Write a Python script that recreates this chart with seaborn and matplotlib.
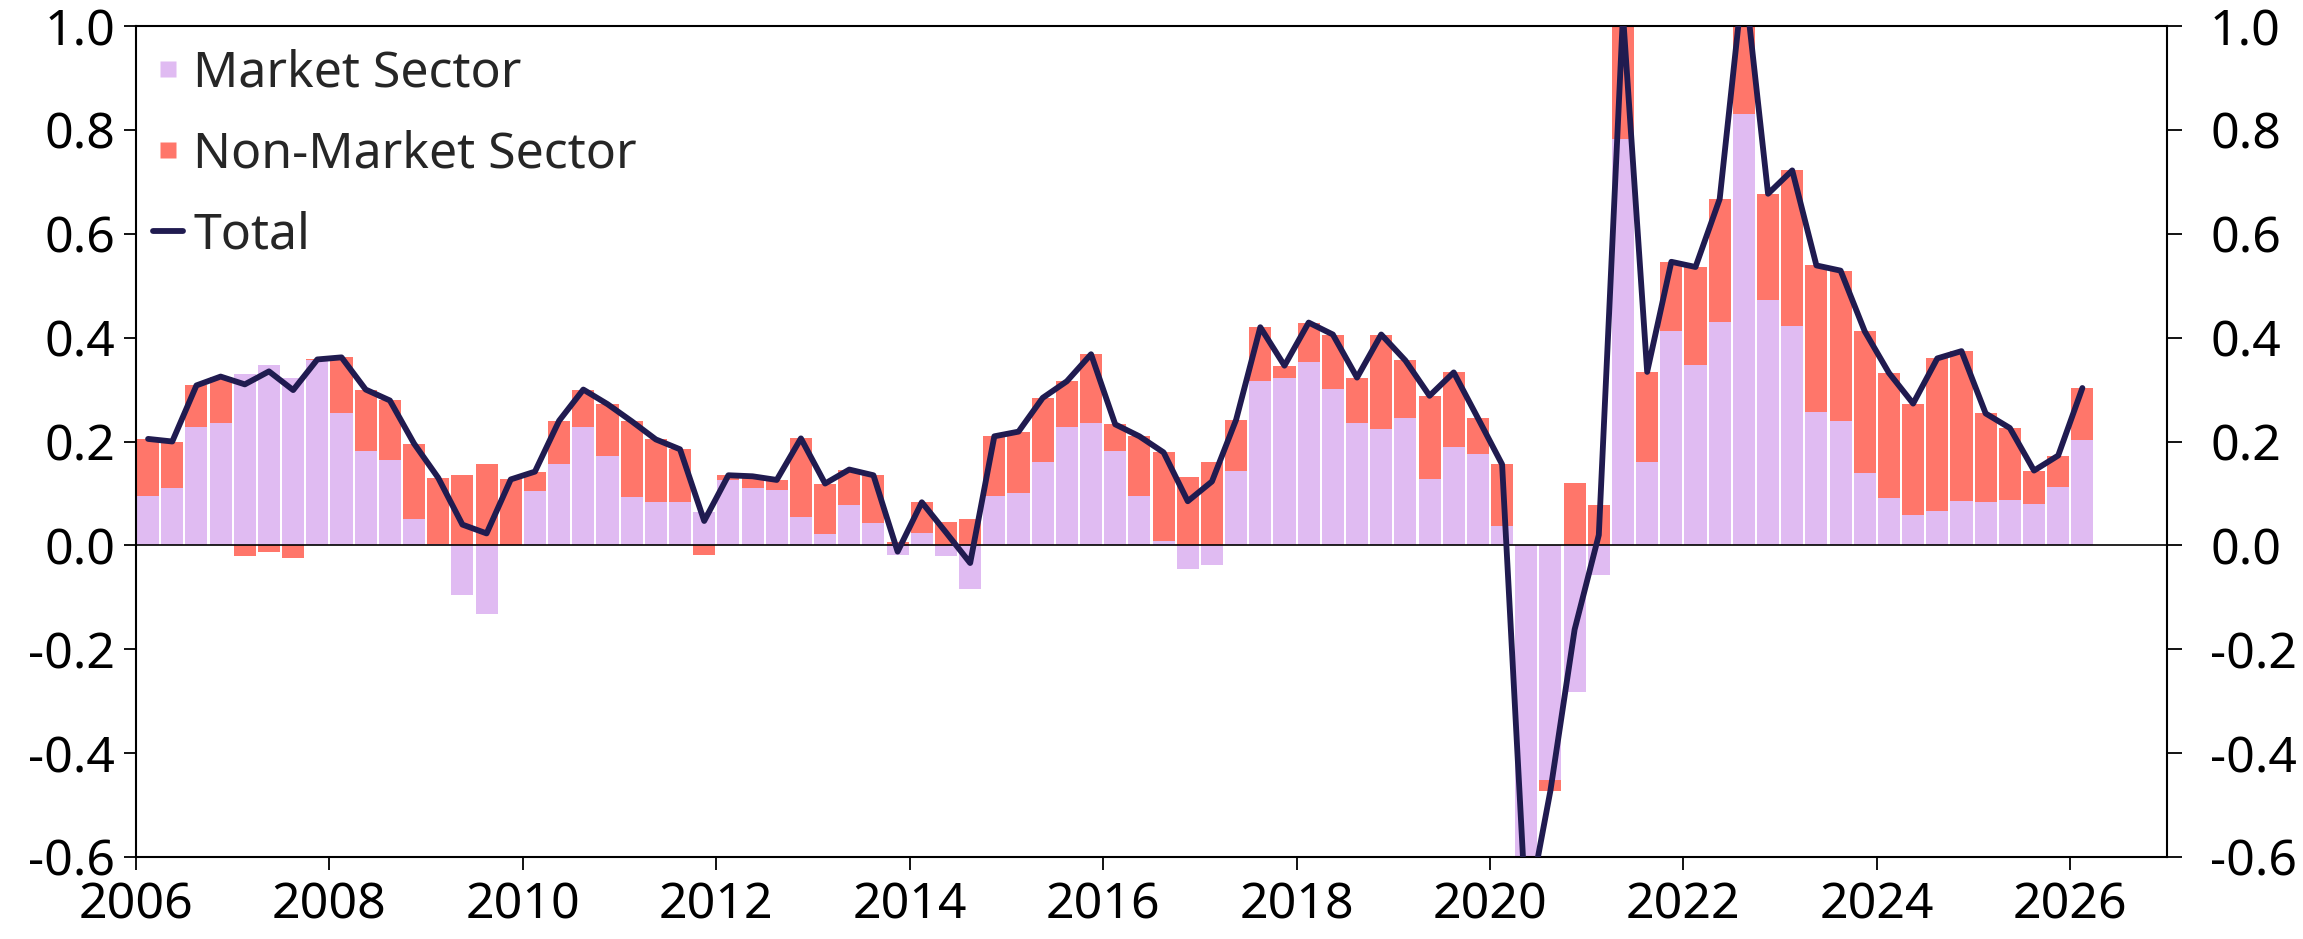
import numpy as np
import matplotlib
matplotlib.use("Agg")
import matplotlib.pyplot as plt
import seaborn as sns
from matplotlib.lines import Line2D

# Quarterly data 2006Q1 .. 2026Q1
start_year = 2006
market = [
    0.095, 0.110, 0.228, 0.236,   # 2006
    0.330, 0.348, 0.323, 0.356,   # 2007
    0.254, 0.182, 0.164, 0.050,   # 2008
    0.003, -0.096, -0.133, 0.000, # 2009
    0.105, 0.156, 0.228, 0.173,   # 2010
    0.093, 0.084, 0.084, 0.065,   # 2011
    0.125, 0.110, 0.106, 0.054,   # 2012
    0.021, 0.078, 0.044, -0.018,  # 2013
    0.023, -0.020, -0.084, 0.095, # 2014
    0.100, 0.161, 0.227, 0.236,   # 2015
    0.182, 0.095, 0.009, -0.046,  # 2016
    -0.037, 0.144, 0.317, 0.323,  # 2017
    0.353, 0.302, 0.236, 0.224,   # 2018
    0.245, 0.127, 0.190, 0.175,   # 2019
    0.038, -0.700, -0.451, -0.283,# 2020
    -0.058, 0.782, 0.161, 0.412,  # 2021
    0.348, 0.430, 0.830, 0.473,   # 2022
    0.423, 0.257, 0.240, 0.140,   # 2023
    0.092, 0.058, 0.066, 0.085,   # 2024
    0.083, 0.087, 0.080, 0.113,   # 2025
    0.203,                        # 2026
]
non_market = [
    0.110, 0.090, 0.080, 0.089,   # 2006
    -0.020, -0.013, -0.024, 0.002,# 2007
    0.108, 0.118, 0.115, 0.146,   # 2008
    0.127, 0.136, 0.156, 0.127,   # 2009
    0.037, 0.084, 0.072, 0.099,   # 2010
    0.146, 0.120, 0.101, -0.018,  # 2011
    0.010, 0.023, 0.020, 0.152,   # 2012
    0.098, 0.068, 0.091, 0.006,   # 2013
    0.060, 0.045, 0.050, 0.115,   # 2014
    0.119, 0.123, 0.089, 0.132,   # 2015
    0.051, 0.115, 0.170, 0.131,   # 2016
    0.160, 0.098, 0.103, 0.023,   # 2017
    0.076, 0.104, 0.087, 0.182,   # 2018
    0.111, 0.161, 0.143, 0.070,   # 2019
    0.118, -0.020, -0.021, 0.121, # 2020
    0.078, 0.240, 0.173, 0.134,   # 2021
    0.188, 0.237, 0.270, 0.204,   # 2022
    0.299, 0.282, 0.289, 0.272,   # 2023
    0.240, 0.215, 0.294, 0.289,   # 2024
    0.171, 0.139, 0.064, 0.060,   # 2025
    0.100,                        # 2026
]
x_ticks = [2006, 2008, 2010, 2012, 2014, 2016, 2018, 2020, 2022, 2024, 2026]
y_ticks = [-0.6, -0.4, -0.2, 0.0, 0.2, 0.4, 0.6, 0.8, 1.0]
labels = ["Market Sector", "Non-Market Sector", "Total"]

c_market = "#E0BBF2"
c_non = "#FF766A"
c_total = "#201B50"

market = np.array(market)
non_market = np.array(non_market)
total = market + non_market
n = len(market)
x = start_year + 0.125 + 0.25 * np.arange(n)
# diverging stack: non-market sits on market if same sign, else starts at zero
bottom_non = np.where(np.sign(non_market) == np.sign(market), market, 0.0)

sns.set_theme(style="white")
plt.rcParams["font.family"] = ["Noto Sans", "DejaVu Sans"]

FS = 36
fig = plt.figure(figsize=(23.03, 9.39), dpi=100)
ax = fig.add_axes([136 / 2303, 1 - 857 / 939, (2167 - 136) / 2303, (857 - 26) / 939])

w = 0.228
ax.bar(x, market, width=w, color=c_market, edgecolor="none", zorder=2)
ax.bar(x, non_market, width=w, bottom=bottom_non, color=c_non, edgecolor="none", zorder=2)
ax.axhline(0, color="black", lw=1.2, zorder=3)
sns.lineplot(x=x, y=total, ax=ax, color=c_total, lw=4.2, zorder=4, legend=False)

ax.set_xlim(2006, 2027)
ax.set_ylim(-0.6, 1.0)
ax.set_xticks(x_ticks)
ax.set_xticklabels([str(v) for v in x_ticks])
ax.set_yticks(y_ticks)
ax.set_yticklabels([f"{v:.1f}" for v in y_ticks])
ax.tick_params(axis="both", labelsize=FS, colors="black", direction="out",
               length=9, width=1.3, pad=6)
ax.tick_params(axis="y", left=True, right=False, labelleft=True, labelright=False)
ax.tick_params(axis="x", bottom=True, top=False, pad=8)
for s in ax.spines.values():
    s.set_visible(True)
    s.set_color("black")
    s.set_linewidth(1.5)
ax.set_xlabel("")
ax.set_ylabel("")
ax.grid(False)

# right-hand duplicate scale
ax2 = ax.twinx()
ax2.set_ylim(ax.get_ylim())
ax2.set_yticks(y_ticks)
ax2.set_yticklabels([f"{v:.1f}" for v in y_ticks])
ax2.tick_params(axis="y", labelsize=FS, colors="black", direction="out",
                length=11, width=1.3, pad=20)
ax2.grid(False)
for s in ax2.spines.values():
    s.set_visible(False)

handles = [Line2D([], [], marker="s", linestyle="none", markersize=11.5,
                  markerfacecolor=c_market, markeredgecolor="none"),
           Line2D([], [], marker="s", linestyle="none", markersize=11.5,
                  markerfacecolor=c_non, markeredgecolor="none"),
           Line2D([], [], color=c_total, lw=4.2)]
leg = ax.legend(handles, labels, loc="upper left", frameon=False, fontsize=FS,
                handlelength=0.6, handletextpad=0.2,
                labelspacing=0.62, borderaxespad=0.0, borderpad=0.0,
                bbox_to_anchor=(17 / 2031, 1 - 22 / 831))

fig.savefig("out.png", dpi=100)
